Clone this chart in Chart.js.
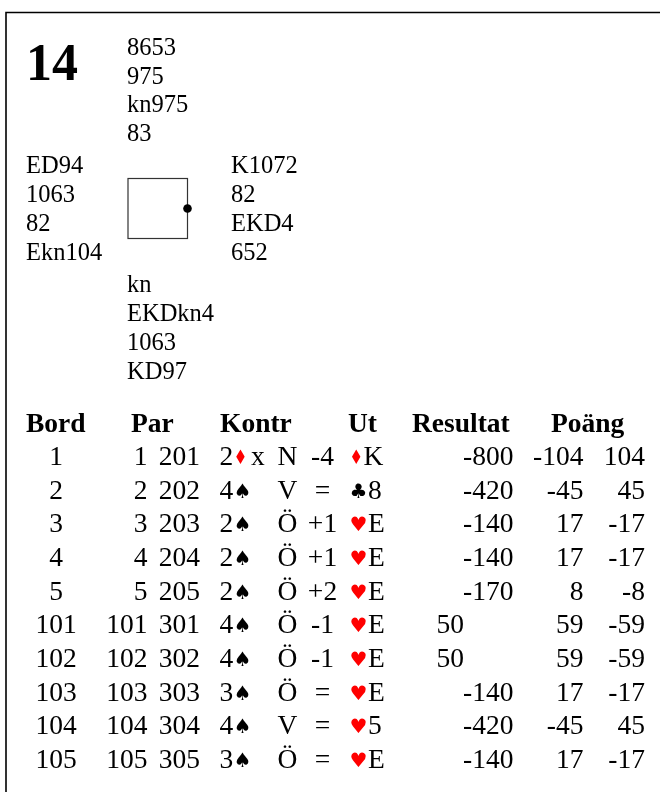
<!DOCTYPE html>
<html>
<head>
<meta charset="utf-8">
<script src="https://cdn.jsdelivr.net/npm/chart.js@4.4.1/dist/chart.umd.min.js"></script>
<style>
html,body{margin:0;padding:0;background:#fff;}
#wrap{width:660px;height:792px;position:relative;}
canvas{display:block;}
</style>
</head>
<body>
<div id="wrap"><canvas id="c" width="660" height="792"></canvas></div>
<script>
// ---- data ----
const boardNo = '14';
const handNorth = ['8653', '975', 'kn975', '83'];
const handWest  = ['ED94', '1063', '82', 'Ekn104'];
const handEast  = ['K1072', '82', 'EKD4', '652'];
const handSouth = ['kn', 'EKDkn4', '1063', 'KD97'];
const dealer = 'E';

const headers   = ['Bord', 'Par', 'Kontr', 'Ut', 'Resultat', 'Poäng'];
const bord      = ['1', '2', '3', '4', '5', '101', '102', '103', '104', '105'];
const parNS     = ['1', '2', '3', '4', '5', '101', '102', '103', '104', '105'];
const parEW     = ['201', '202', '203', '204', '205', '301', '302', '303', '304', '305'];
const contrLevel= ['2', '4', '2', '2', '2', '4', '4', '3', '4', '3'];
const contrSuit = ['D', 'S', 'S', 'S', 'S', 'S', 'S', 'S', 'S', 'S'];
const doubled   = ['x', '', '', '', '', '', '', '', '', ''];
const declarer  = ['N', 'V', 'Ö', 'Ö', 'Ö', 'Ö', 'Ö', 'Ö', 'V', 'Ö'];
const tricks    = ['-4', '=', '+1', '+1', '+2', '-1', '-1', '=', '=', '='];
const leadSuit  = ['D', 'C', 'H', 'H', 'H', 'H', 'H', 'H', 'H', 'H'];
const leadCard  = ['K', '8', 'E', 'E', 'E', 'E', 'E', 'E', '5', 'E'];
const result    = [-800, -420, -140, -140, -170, 50, 50, -140, -420, -140];
const scoreNS   = [-104, -45, 17, 17, 8, 59, 59, 17, -45, 17];
const scoreEW   = [104, 45, -17, -17, -8, -59, -59, -17, 45, -17];

// ---- styles ----
const SERIF = '"Liberation Serif", "Times New Roman", serif';
const SUITFONT = '"DejaVu Sans", sans-serif';
const suitGlyph = {S: '\u2660', H: '\u2665', D: '\u2666', C: '\u2663'};
const suitColor = {S: '#000', H: '#ff0000', D: '#ff0000', C: '#000'};
const suitScaleX = {S: 1, H: 1, D: 0.75, C: 1};

const dealPlugin = {
  id: 'dealSheet',
  afterDraw(chart) {
    const ctx = chart.ctx;
    const sx = chart.scales.x, sy = chart.scales.y;
    const X = v => sx.getPixelForValue(v);
    const Y = v => sy.getPixelForValue(v);
    ctx.save();
    // frame
    ctx.strokeStyle = '#000';
    ctx.lineWidth = 1.6;
    ctx.beginPath();
    ctx.moveTo(X(5.2), Y(12.5)); ctx.lineTo(X(660), Y(12.5));
    ctx.moveTo(X(6), Y(12.5)); ctx.lineTo(X(6), Y(792));
    ctx.stroke();

    ctx.fillStyle = '#000';
    ctx.textBaseline = 'alphabetic';
    // board number
    ctx.font = 'bold 52px ' + SERIF;
    ctx.textAlign = 'left';
    ctx.fillText(boardNo, X(26), Y(80));

    // hands
    ctx.font = '24.5px ' + SERIF;
    const drawHand = (lines, x, y0, dy) => {
      lines.forEach((t, i) => ctx.fillText(t, X(x), Y(y0 + i * dy)));
    };
    drawHand(handNorth, 127, 55, 28.7);
    drawHand(handWest, 26, 173, 29);
    drawHand(handEast, 231, 173, 29);
    drawHand(handSouth, 127, 291.5, 29.3);

    // compass box
    ctx.strokeStyle = '#333';
    ctx.lineWidth = 1.2;
    ctx.strokeRect(X(128), Y(178.5), X(187.5) - X(128), Y(238.5) - Y(178.5));
    const dealerPos = {N: [157.7, 178.5], S: [157.7, 238.5], W: [128, 208.5], E: [187.5, 208.5]};
    const dp = dealerPos[dealer];
    ctx.fillStyle = '#000';
    ctx.beginPath();
    ctx.arc(X(dp[0]), Y(dp[1]), 4.3, 0, Math.PI * 2);
    ctx.fill();

    // table header
    const FS = 27.5;
    ctx.font = 'bold ' + FS + 'px ' + SERIF;
    ctx.textAlign = 'left';
    const headX = [26, 131, 220, 348, 412, 551];
    headers.forEach((h, i) => ctx.fillText(h, X(headX[i]), Y(432)));

    // rows
    const rowY = i => 465 + i * 33.65;
    const suit = (s, x, y) => {
      ctx.save();
      ctx.font = '20px ' + SUITFONT;
      ctx.fillStyle = suitColor[s];
      ctx.textAlign = 'left';
      const w = ctx.measureText(suitGlyph[s]).width * suitScaleX[s];
      ctx.translate(X(x), Y(y) - 1);
      ctx.scale(suitScaleX[s], 1);
      ctx.fillText(suitGlyph[s], 0, 0);
      ctx.restore();
      return w;
    };
    bord.forEach((b, i) => {
      const y = rowY(i);
      ctx.fillStyle = '#000';
      ctx.font = FS + 'px ' + SERIF;
      ctx.textAlign = 'center';
      ctx.fillText(b, X(56), Y(y));
      ctx.textAlign = 'right';
      ctx.fillText(parNS[i], X(147.5), Y(y));
      ctx.fillText(parEW[i], X(200), Y(y));
      // contract
      ctx.textAlign = 'left';
      ctx.fillText(contrLevel[i], X(219.5), Y(y));
      const lw = ctx.measureText(contrLevel[i]).width;
      suit(contrSuit[i], 219.5 + lw + 0.5, y);
      ctx.font = FS + 'px ' + SERIF;
      ctx.fillStyle = '#000';
      ctx.textAlign = 'left';
      if (doubled[i]) ctx.fillText(doubled[i], X(251), Y(y));
      ctx.textAlign = 'center';
      ctx.fillText(declarer[i], X(287.5), Y(y));
      ctx.fillText(tricks[i], X(322.5), Y(y));
      // lead
      const lsw = suit(leadSuit[i], 349.5, y);
      ctx.font = FS + 'px ' + SERIF;
      ctx.fillStyle = '#000';
      ctx.textAlign = 'left';
      ctx.fillText(leadCard[i], X(349.5 + lsw + 0.5), Y(y));
      // result
      ctx.textAlign = 'right';
      if (result[i] >= 0) ctx.fillText(String(result[i]), X(464), Y(y));
      else ctx.fillText(String(result[i]), X(513.5), Y(y));
      ctx.fillText(String(scoreNS[i]), X(583.5), Y(y));
      ctx.fillText(String(scoreEW[i]), X(645), Y(y));
    });
    ctx.restore();
  }
};

new Chart(document.getElementById('c'), {
  type: 'scatter',
  data: { datasets: [{ data: [], pointRadius: 0 }] },
  options: {
    responsive: false,
    animation: false,
    events: [],
    layout: { padding: 0 },
    plugins: { legend: { display: false }, tooltip: { enabled: false }, title: { display: false } },
    scales: {
      x: { type: 'linear', min: 0, max: 660, display: false },
      y: { type: 'linear', min: 0, max: 792, reverse: true, display: false }
    }
  },
  plugins: [dealPlugin]
});
</script>
</body>
</html>
